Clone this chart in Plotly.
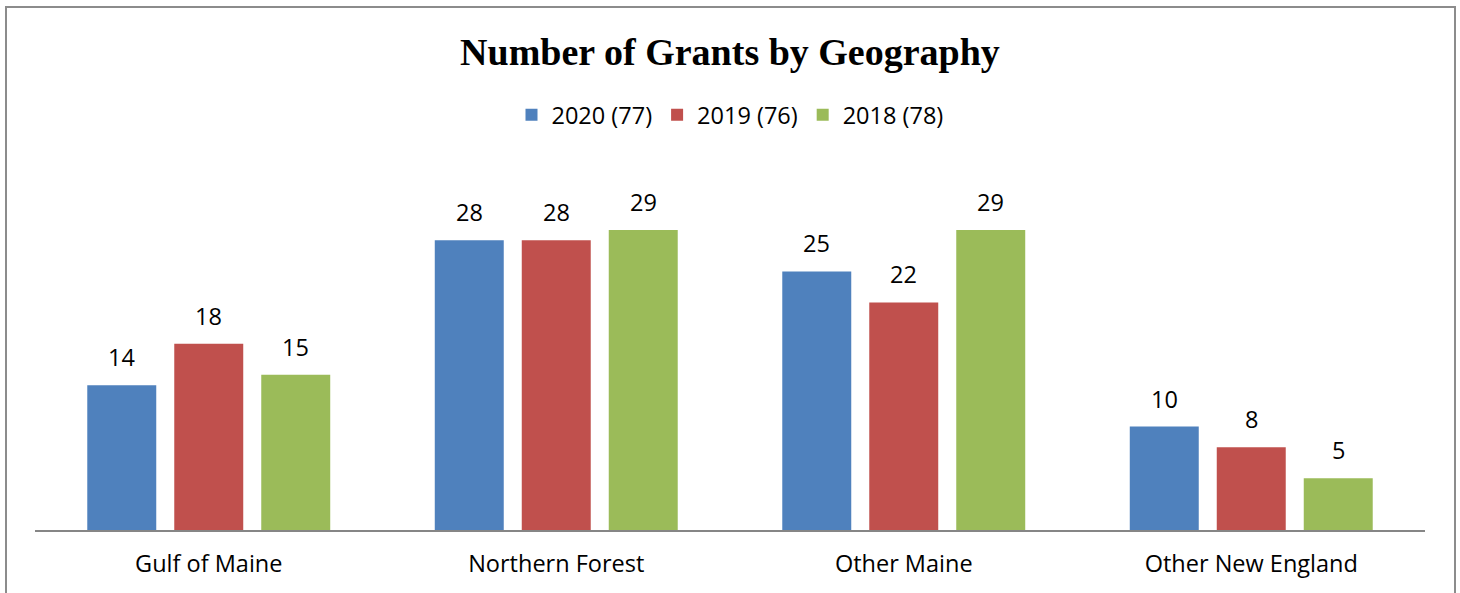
import plotly.graph_objects as go

categories = ["Gulf of Maine", "Northern Forest", "Other Maine", "Other New England"]
series_names = ["2020 (77)", "2019 (76)", "2018 (78)"]
values_2020 = [14, 28, 25, 10]
values_2019 = [18, 28, 22, 8]
values_2018 = [15, 29, 29, 5]
colors = ["#4F81BD", "#C0504D", "#9BBB59"]

series = [values_2020, values_2019, values_2018]

W, H = 1460, 593
ml, mr, mt, mb = 35, 35, 160, 63
plot_h = H - mt - mb
px_per_unit = 300 / 29.0
ymax = plot_h / px_per_unit
FONT = "'Open Sans', sans-serif"
FS = 23.5

fig = go.Figure()
for name, vals, col in zip(series_names, series, colors):
    fig.add_trace(go.Bar(
        x=categories, y=vals, name=name,
        marker=dict(color=col, line=dict(width=0)),
        hoverinfo="skip",
    ))

# data labels above bars
offsets = [-87, 0, 87]
for vals, off in zip(series, offsets):
    for c, v in zip(categories, vals):
        fig.add_annotation(
            x=c, y=v, xref="x", yref="y", text=str(v), showarrow=False,
            xshift=off, yshift=28, yanchor="middle",
            font=dict(family=FONT, size=FS, color="#000000"),
        )

plot_w = W - ml - mr
fig.add_shape(
    type="rect", xref="paper", yref="paper",
    x0=(6 - ml) / plot_w, x1=(1455 - ml) / plot_w,
    y0=-0.3, y1=(H - mb - 7) / plot_h,
    line=dict(color="#8C8C8C", width=2), fillcolor="rgba(0,0,0,0)", layer="above",
)

fig.update_layout(
    width=W, height=H,
    margin=dict(l=ml, r=mr, t=mt, b=mb),
    paper_bgcolor="white", plot_bgcolor="white",
    barmode="group", bargap=0.249, bargroupgap=0.207,
    title=dict(
        text="<b>Number of Grants by Geography</b>",
        x=0.5, xanchor="center", y=1 - 52 / H, yanchor="middle",
        font=dict(family="'Liberation Serif', serif", size=38, color="#000000"),
    ),
    legend=dict(
        orientation="h", x=0.5, xanchor="center",
        y=(H - mb - 115) / plot_h, yanchor="middle",
        font=dict(family=FONT, size=FS, color="#000000"),
        itemwidth=30, tracegroupgap=0, bgcolor="rgba(0,0,0,0)",
    ),
    xaxis=dict(
        showline=True, linecolor="#868686", linewidth=2,
        showgrid=False, ticks="", ticklabelstandoff=12,
        tickfont=dict(family=FONT, size=FS, color="#000000"),
        fixedrange=True,
    ),
    yaxis=dict(
        range=[0, ymax], visible=False, showgrid=False, zeroline=False,
        fixedrange=True,
    ),
    showlegend=True,
)

fig.write_html(
    "out.html",
    config={"displayModeBar": False},
    post_script="document.body.style.margin='0';document.body.style.overflow='hidden';",
)
